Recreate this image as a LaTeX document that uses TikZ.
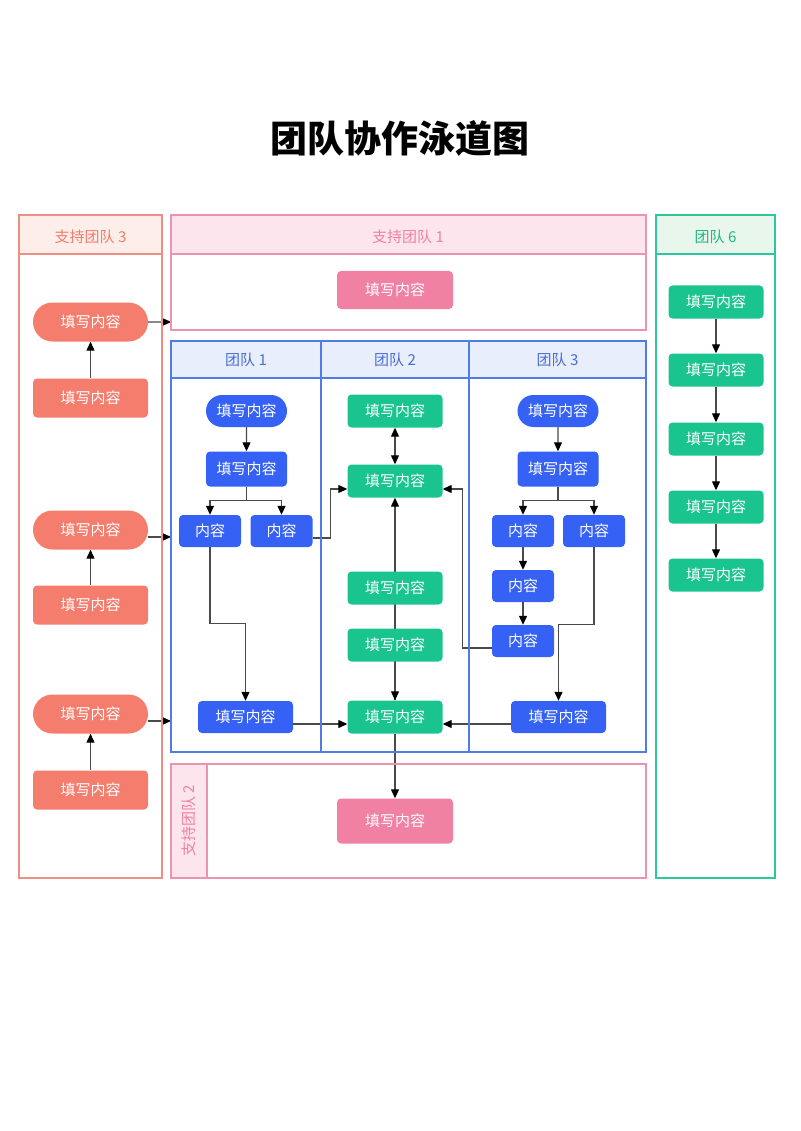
\documentclass[tikz,border=0pt]{standalone}
\usepackage{fontspec}
\setmainfont{Noto Sans CJK SC}
\usetikzlibrary{arrows.meta}
\usetikzlibrary{shapes.misc}
\usetikzlibrary{backgrounds}
\definecolor{salmon}{HTML}{F47D6D}
\definecolor{salmonline}{HTML}{EE8F85}
\definecolor{salmonhead}{HTML}{FDEEEA}
\definecolor{pinkbox}{HTML}{F081A3}
\definecolor{pinkline}{HTML}{EB94B1}
\definecolor{pinkhead}{HTML}{FCE5ED}
\definecolor{bluebox}{HTML}{3562F4}
\definecolor{blueline}{HTML}{4F7CE6}
\definecolor{bluehead}{HTML}{E8EEFC}
\definecolor{bluetext}{HTML}{4A6CD6}
\definecolor{greenbox}{HTML}{1AC48F}
\definecolor{greenline}{HTML}{2DC79E}
\definecolor{greenhead}{HTML}{E9F6EC}
\definecolor{greentext}{HTML}{1DB985}
\definecolor{linegray}{HTML}{4A4A4A}
\tikzstyle{txt} = [font=\fontsize{15}{17}\selectfont, inner sep=0pt]
\tikzstyle{box} = [txt, rectangle, rounded corners=4pt, text=white]
\tikzstyle{pill} = [txt, rounded rectangle, text=white]
\tikzstyle{sbox} = [box, fill=salmon, minimum width=115pt, minimum height=39pt]
\tikzstyle{spill} = [pill, fill=salmon, minimum width=115pt, minimum height=39pt]
\tikzstyle{pbox} = [box, fill=pinkbox, minimum width=116pt, minimum height=38pt]
\tikzstyle{bbox} = [box, fill=bluebox, minimum width=81pt, minimum height=35pt]
\tikzstyle{bpill} = [pill, fill=bluebox, minimum width=81pt, minimum height=32pt]
\tikzstyle{bwide} = [box, fill=bluebox, minimum width=95pt, minimum height=32pt]
\tikzstyle{kbox} = [box, fill=bluebox, minimum width=62pt, minimum height=32pt]
\tikzstyle{gbox} = [box, fill=greenbox, minimum width=95pt, minimum height=33pt]
\tikzstyle{arrow} = [draw=linegray, line width=1.2pt, -{Triangle[length=9pt,width=8pt,color=black]}]
\tikzstyle{dblarrow} = [draw=linegray, line width=1.2pt, {Triangle[length=9pt,width=8pt,color=black]}-{Triangle[length=9pt,width=8pt,color=black]}]

\begin{document}
\begin{tikzpicture}[x=1pt, y=-1pt]
\useasboundingbox (0,0) rectangle (800,1131);
\node(title) at (400,138){\fontsize{37}{40}\selectfont\bfseries 团队协作泳道图};

\draw[salmonline, line width=1.4pt] (19,215) rectangle (162,878);
\draw[salmonline, line width=1.4pt, fill=salmonhead] (19,215) rectangle (162,254);
\node[txt, text=salmon](h3) at (90.5,237){支持团队 3};

\draw[pinkline, line width=1.4pt] (171,215) rectangle (646,330);
\draw[pinkline, line width=1.4pt, fill=pinkhead] (171,215) rectangle (646,254);
\node[txt, text=pinkbox](h1) at (408,237){支持团队 1};

\draw[greenline, line width=1.4pt] (656,215) rectangle (775,878);
\draw[greenline, line width=1.4pt, fill=greenhead] (656,215) rectangle (775,254);
\node[txt, text=greentext](h6) at (715.5,237){团队 6};

\draw[blueline, line width=1.4pt] (171,341) rectangle (646,752);
\draw[blueline, line width=1.4pt, fill=bluehead] (171,341) rectangle (646,378);
\draw[blueline, line width=1.4pt] (321,341) -- (321,752);
\draw[blueline, line width=1.4pt] (469,341) -- (469,752);
\node[txt, text=bluetext](ta) at (246,360){团队 1};
\node[txt, text=bluetext](tb) at (395,360){团队 2};
\node[txt, text=bluetext](tc) at (557.5,360){团队 3};

\draw[pinkline, line width=1.4pt] (171,764) rectangle (646,878);
\draw[pinkline, line width=1.4pt, fill=pinkhead] (171,764) rectangle (207,878);
\node[txt, text=pinkbox, rotate=90](h2) at (189,821){支持团队 2};

\node[spill](p1) at (90.5,322){填写内容};
\node[sbox](r1) at (90.5,398){填写内容};
\node[spill](p2) at (90.5,530){填写内容};
\node[sbox](r2) at (90.5,605){填写内容};
\node[spill](p3) at (90.5,714){填写内容};
\node[sbox](r3) at (90.5,790){填写内容};
\coordinate(in1) at (171,322);
\coordinate(in2) at (171,537);
\coordinate(in3) at (171,721);

\node[pbox](n1) at (395,290){填写内容};
\node[pbox, minimum height=45pt](n2) at (395,821){填写内容};

\node[bpill](a1) at (246.5,411){填写内容};
\node[bbox](a2) at (246.5,469){填写内容};
\node[kbox](k1) at (210,531){内容};
\node[kbox](k2) at (281.5,531){内容};
\node[bwide](b1) at (245.5,717){填写内容};

\node[gbox](g1) at (395,411){填写内容};
\node[gbox](g2) at (395,481){填写内容};
\node[gbox](g3) at (395,588){填写内容};
\node[gbox](g4) at (395,645){填写内容};
\node[gbox](g5) at (395,717){填写内容};

\node[bpill](c1) at (558,411){填写内容};
\node[bbox](c2) at (558,469){填写内容};
\node[kbox](k3) at (523,531){内容};
\node[kbox](k4) at (594,531){内容};
\node[kbox](k5) at (523,586){内容};
\node[kbox](k6) at (523,641){内容};
\node[bwide](b3) at (558.5,717){填写内容};

\foreach \i/\y in {1/302,2/370,3/439,4/507,5/575}
  \node[gbox](t\i) at (716,\y){填写内容};

\begin{pgfonlayer}{background}
\draw[arrow](r1) -- (p1);
\draw[arrow](r2) -- (p2);
\draw[arrow](r3) -- (p3);
\draw[arrow](p1) -- (in1);
\draw[arrow](p2.east |- in2) -- (in2);
\draw[arrow](p3.east |- in3) -- (in3);

\draw[arrow](a1) -- (a2);
\draw[arrow](a2.south) -- ++(0,14) -| (k1.north);
\draw[arrow](a2.south) -- ++(0,14) -| (k2.north);
\draw[arrow](k1.south) -- ++(0,76) -| (b1.north);
\draw[arrow]([yshift=-7pt]k2.east) -- ++(18,0) |- ([yshift=-8pt]g2.west);
\draw[arrow]([yshift=-7pt]b1.east) -- ([yshift=-7pt]g5.west);

\draw[dblarrow](g1) -- (g2);
\draw[arrow](g5.north) -- (g2.south);
\draw[arrow](g4) -- (g5);
\draw[arrow](g5) -- (n2);

\draw[arrow](c1) -- (c2);
\draw[arrow](c2.south) -- ++(0,14) -| (k3.north);
\draw[arrow](c2.south) -- ++(0,14) -| (k4.north);
\draw[arrow](k3) -- (k5);
\draw[arrow](k5) -- (k6);
\draw[arrow](k4.south) -- ++(0,77) -| (b3.north);
\draw[arrow]([yshift=-7pt]k6.west) -- ++(-29,0) |- ([yshift=-8pt]g2.east);
\draw[arrow]([yshift=-7pt]b3.west) -- ([yshift=-7pt]g5.east);

\foreach \i [count=\j from 2] in {1,...,4}
  \draw[arrow](t\i) -- (t\j);
\end{pgfonlayer}
\end{tikzpicture}
\end{document}
